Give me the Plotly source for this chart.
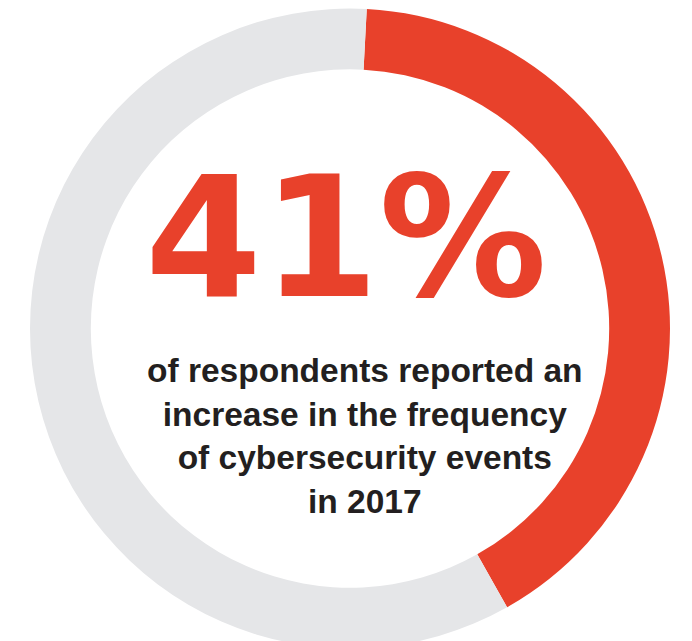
import plotly.graph_objects as go

labels = ["Reported an increase", "Other"]
values = [41, 59]
colors = ["#E8412B", "#E5E6E8"]
headline = "41%"
caption_lines = ["of respondents reported an", "increase in the frequency",
                 "of cybersecurity events", "in 2017"]

W, H = 692, 641

fig = go.Figure()
fig.add_trace(go.Pie(
    labels=labels, values=values,
    marker=dict(colors=colors, line=dict(width=0)),
    hole=0.81, sort=False, direction="clockwise", rotation=3,
    textinfo="none", hoverinfo="label+percent", showlegend=False,
    domain=dict(x=[22 / W, 662 / W], y=[0, 1]),
))

fig.add_annotation(
    x=338 / W, y=1 - 230 / H, xref="paper", yref="paper",
    text=f"<b>{headline}</b>", showarrow=False,
    font=dict(family="DejaVu Sans", size=168, color=colors[0]),
    xanchor="center", yanchor="middle",
)
fig.add_annotation(
    x=357 / W, y=1 - 428 / H, xref="paper", yref="paper",
    text="<b>" + "<br>".join(caption_lines) + "</b>", showarrow=False,
    font=dict(family="Liberation Sans, Arial", size=33.5, color="#231F20"),
    xanchor="center", yanchor="middle", align="center",
)

fig.update_layout(
    width=W, height=H, margin=dict(l=0, r=0, t=0, b=0),
    paper_bgcolor="white", plot_bgcolor="white",
)
fig.write_html("out.html")
